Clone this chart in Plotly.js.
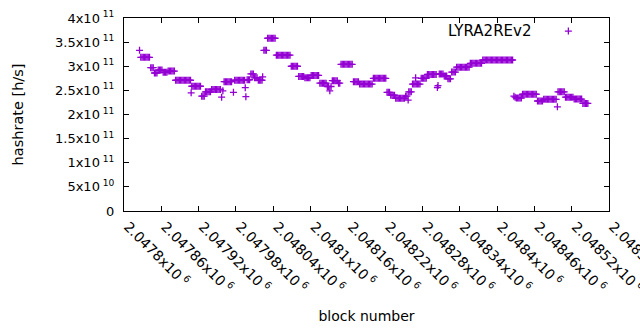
<!DOCTYPE html>
<html>
<head>
<meta charset="utf-8">
<script src="https://cdn.plot.ly/plotly-3.0.1.min.js"></script>
<style>html,body{margin:0;padding:0;background:#fff;}#chart{width:640px;height:330px;}</style>
</head>
<body>
<div id="chart"></div>
<script>
// block numbers are stored as offsets from this base block
const blockBase = 2047800;

const blockOffset = [
  25,
  27,29,31,33,35,37,39,41,
  43,45,47,
  49,51,53,
  55,57,59,61,
  63,65,67,69,
  71,73,75,77,79,81,
  83,85,87,89,91,93,95,97,99,101,103,105,107,
  108,
  109,111,113,115,117,119,121,123,
  125,127,129,
  131,133,135,137,139,
  141,143,145,147,149,151,153,155,
  157,
  159,
  161,163,165,167,169,171,173,
  176,
  178,180,182,184,186,188,190,192,194,
  195,
  196,
  198,200,202,
  204,206,208,
  210,212,214,
  216,218,220,222,
  223,
  225,227,229,
  231,233,235,237,239,241,243,
  245,247,249,251,253,255,257,259,261,263,265,267,
  269,271,273,275,277,279,
  281,283,285,287,289,
  291,293,295,297,299,
  301,303,305,307,309,311,313,
  315,317,319,321,323,325,
  327,329,
  331,
  333,
  335,337,339,341,343,
  345,347,
  349,351,353,355,357,359,361,363,365,367,
  369,371,373,375,377,
  379,381,383,385,387,389,391,393,395,397,399,
  401,403,405,407,409,411,413,415,417,419,421,
  423,425,427,
  429,431,433,435,
  437,439,441,443,445,447,449,451,
  453,455,
  457,
  458,460,462,
  464,466,468,470,472,474,476,
  469,
  478,480,482,484,486,
  488,490,492,494,496,498,500,502,
  504,
  505,
  507,509,511,513,
  515,517,519,
  521,523,525,
  527,529,531,533,
  535,537,539,541,543,545,547,549,551,553,555,
  557,559,561,563,565,567,569,571,573,575,
  577,579,581,583,585,587,589,591,593,595,597,599,601,603,605,607,609,611,613,615,617,619,621,623,625,
  627,
  629,
  631,633,635,637,639,
  641,643,645,647,649,651,653,655,657,659,661,663,
  665,667,669,671,673,
  675,677,679,681,683,685,687,689,691,693,695,
  697,
  698,700,702,704,706,708,
  710,712,714,716,718,720,722,
  724,726,728,730,732,734,736,
  738,740,742,744,746
];

// hashrate in units of 1e11 h/s
const hashrateE11 = [
  3.33,
  3.185,3.185,3.185,3.185,3.185,3.185,3.185,3.185,
  2.97,2.97,2.97,
  2.86,2.86,2.86,
  2.92,2.92,2.92,2.92,
  2.875,2.875,2.875,2.875,
  2.90,2.90,2.90,2.90,2.90,2.90,
  2.71,2.71,2.71,2.71,2.71,2.71,2.71,2.71,2.71,2.71,2.71,2.71,2.71,
  2.45,
  2.585,2.585,2.585,2.585,2.585,2.585,2.585,2.585,
  2.38,2.38,2.38,
  2.47,2.47,2.47,2.47,2.47,
  2.52,2.52,2.52,2.52,2.52,2.52,2.52,2.52,
  2.36,
  2.49,
  2.68,2.68,2.68,2.68,2.68,2.68,2.68,
  2.46,
  2.71,2.71,2.71,2.71,2.71,2.71,2.71,2.71,2.71,
  2.555,
  2.37,
  2.72,2.72,2.72,
  2.84,2.84,2.84,
  2.76,2.76,2.76,
  2.71,2.71,2.71,2.71,
  2.78,
  3.33,3.33,3.33,
  3.58,3.58,3.58,3.58,3.58,3.58,3.58,
  3.23,3.23,3.23,3.23,3.23,3.23,3.23,3.23,3.23,3.23,3.23,3.23,
  3.00,3.00,3.00,3.00,3.00,3.00,
  2.79,2.79,2.79,2.79,2.79,
  2.76,2.76,2.76,2.76,2.76,
  2.81,2.81,2.81,2.81,2.81,2.81,2.81,
  2.65,2.65,2.65,2.65,2.65,2.65,
  2.58,2.58,
  2.49,
  2.58,
  2.70,2.70,2.70,2.70,2.70,
  2.65,2.65,
  3.04,3.04,3.04,3.04,3.04,3.04,3.04,3.04,3.04,3.04,
  2.68,2.68,2.68,2.68,2.68,
  2.63,2.63,2.63,2.63,2.63,2.63,2.63,2.63,2.63,2.63,2.63,
  2.75,2.75,2.75,2.75,2.75,2.75,2.75,2.75,2.75,2.75,2.75,
  2.46,2.46,2.46,
  2.40,2.40,2.40,2.40,
  2.335,2.335,2.335,2.335,2.335,2.335,2.335,2.335,
  2.38,2.38,
  2.30,
  2.47,2.47,2.47,
  2.63,2.63,2.63,2.63,2.63,2.63,2.63,
  2.76,
  2.75,2.75,2.75,2.75,2.75,
  2.83,2.83,2.83,2.83,2.83,2.83,2.83,2.83,
  2.56,
  2.60,
  2.84,2.84,2.84,2.84,
  2.80,2.80,2.80,
  2.74,2.74,2.74,
  2.88,2.88,2.88,2.88,
  2.98,2.98,2.98,2.98,2.98,2.98,2.98,2.98,2.98,2.98,2.98,
  3.06,3.06,3.06,3.06,3.06,3.06,3.06,3.06,3.06,3.06,
  3.13,3.13,3.13,3.13,3.13,3.13,3.13,3.13,3.13,3.13,3.13,3.13,3.13,3.13,3.13,3.13,3.13,3.13,3.13,3.13,3.13,3.13,3.13,3.13,3.13,
  2.38,
  2.36,
  2.34,2.34,2.34,2.34,2.34,
  2.42,2.42,2.42,2.42,2.42,2.42,2.42,2.42,2.42,2.42,2.42,2.42,
  2.28,2.28,2.28,2.28,2.28,
  2.315,2.315,2.315,2.315,2.315,2.315,2.315,2.315,2.315,2.315,2.315,
  2.16,
  2.47,2.47,2.47,2.47,2.47,2.47,
  2.36,2.36,2.36,2.36,2.36,2.36,2.36,
  2.32,2.32,2.32,2.32,2.32,2.32,2.32,
  2.23,2.23,2.23,2.23,2.23
];

const seriesName = "LYRA2REv2";

const xTickVals = [2047800,2047860,2047920,2047980,2048040,2048100,2048160,2048220,2048280,2048340,2048400,2048460,2048520,2048580];
const xTickText = ["2.0478","2.04786","2.04792","2.04798","2.04804","2.0481","2.04816","2.04822","2.04828","2.04834","2.0484","2.04846","2.04852","2.04858"];
const yTickVals = [0,5e10,1e11,1.5e11,2e11,2.5e11,3e11,3.5e11,4e11];
const yTickMant = ["0","5","1","1.5","2","2.5","3","3.5","4"];
const yTickExp  = ["","10","11","11","11","11","11","11","11"];

const NB = "\u00a0";
const x = blockOffset.map(o => blockBase + o);
const y = hashrateE11.map(v => v * 1e11);

const FAM = "DejaVu Sans, Verdana, sans-serif";
const font = {family: FAM, size: 14, color: "#000"};

const trace = {
  type: "scatter",
  mode: "markers",
  x: x, y: y,
  name: NB,
  marker: {symbol: "cross-thin", size: 5, color: "#9400d3", line: {color: "#9400d3", width: 1.3}},
  showlegend: true,
  hoverinfo: "skip"
};

const layout = {
  width: 640, height: 330,
  margin: {l: 124, r: 31, t: 18, b: 119, pad: 0},
  paper_bgcolor: "#fff", plot_bgcolor: "#fff",
  font: font,
  showlegend: true,
  legend: {x: 0.875, xanchor: "left", y: 0.93, yanchor: "middle", bgcolor: "rgba(0,0,0,0)",
           font: font, itemwidth: 30},
  xaxis: {
    range: [2047800, 2048580], autorange: false,
    tickmode: "array", tickvals: xTickVals,
    ticktext: xTickText.map(t => t + "x10<sup>" + NB + "6</sup>"),
    tickfont: {family: FAM, size: 14, color: "#000"},
    tickangle: 45, ticks: "inside", ticklen: 5, tickcolor: "#000",
    ticklabeloverflow: "allow", ticklabelstandoff: 1, ticklabelshift: 4,
    showline: true, linecolor: "#000", linewidth: 1, mirror: "ticks",
    showgrid: false, zeroline: false, automargin: false,
    title: {text: "block number", font: font, standoff: 16}
  },
  yaxis: {
    range: [0, 4e11], autorange: false,
    tickmode: "array", tickvals: yTickVals,
    ticktext: yTickMant.map((m, i) => yTickExp[i] ? m + "x10<sup>" + NB + yTickExp[i] + "</sup>" : m),
    tickfont: {family: FAM, size: 13, color: "#000"},
    ticks: "inside", ticklen: 5, tickcolor: "#000",
    showline: true, linecolor: "#000", linewidth: 1, mirror: "ticks",
    showgrid: false, zeroline: false, automargin: false,
    ticklabelstandoff: 6,
    title: {text: "hashrate [h/s]", font: {family: FAM, size: 14.5, color: "#000"}, standoff: 27}
  },
  annotations: [{
    xref: "paper", yref: "paper", x: 0.8433, y: 0.933, xanchor: "right", yanchor: "middle",
    text: seriesName, showarrow: false, font: {family: FAM, size: 15, color: "#000"}
  }]
};

Plotly.newPlot("chart", [trace], layout, {staticPlot: true, displayModeBar: false});
</script>
</body>
</html>
